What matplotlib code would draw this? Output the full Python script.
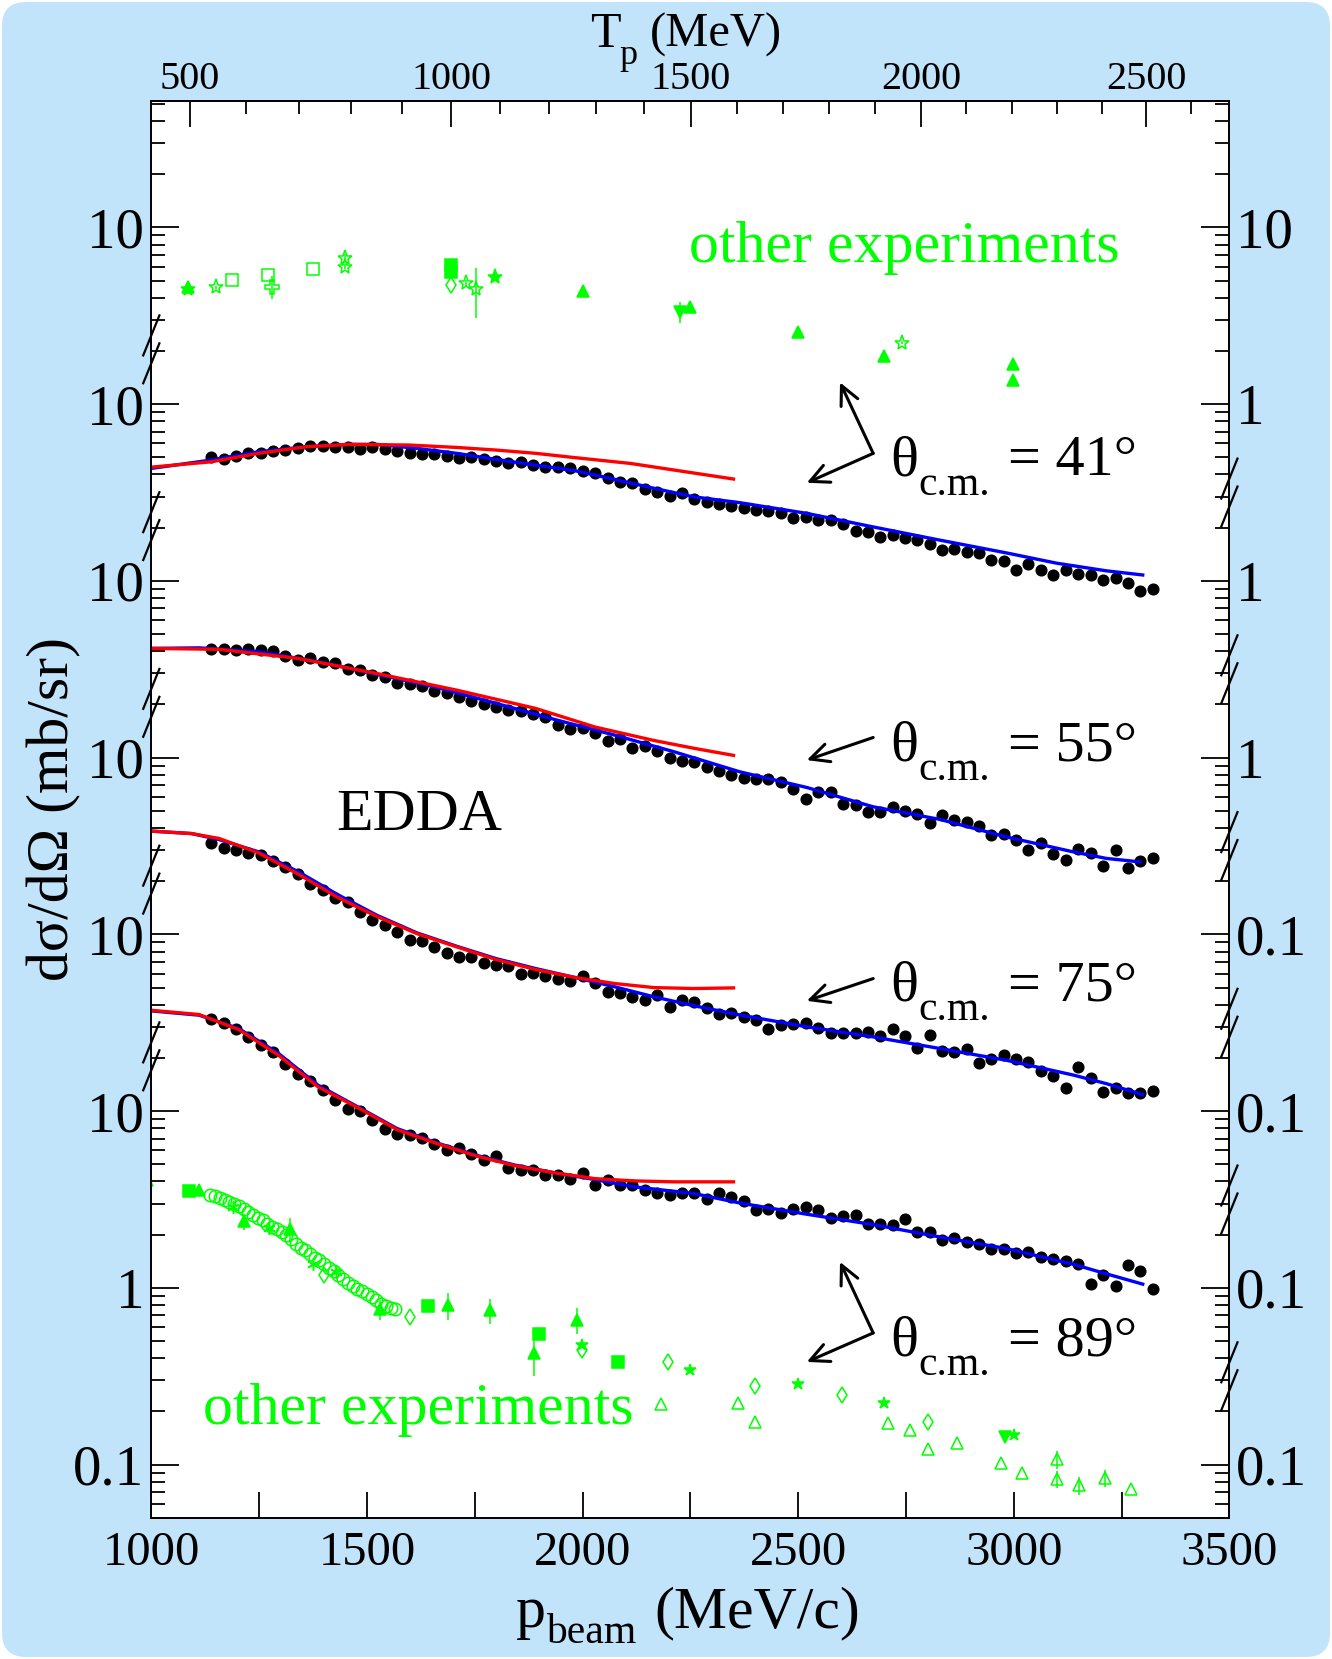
import numpy as np
import matplotlib.pyplot as plt
from matplotlib.patches import FancyBboxPatch
from matplotlib.ticker import FixedLocator, FixedFormatter, LogLocator, NullFormatter

plt.rcParams['font.family'] = ['Liberation Serif', 'DejaVu Serif']

M_P = 938.27
W, H = 1332, 1659
BG = '#c2e4fa'
GREEN = '#00ff00'

# EDDA beam momenta (MeV/c), same bins for every angle
p_edda = [1139, 1168, 1196, 1225, 1254, 1283, 1311, 1340, 1369, 1397,
          1426, 1455, 1484, 1512, 1541, 1570, 1599, 1627, 1656, 1685,
          1713, 1742, 1771, 1800, 1828, 1857, 1886, 1914, 1943, 1972,
          2001, 2029, 2058, 2087, 2115, 2144, 2173, 2202, 2230, 2259,
          2288, 2317, 2345, 2374, 2403, 2431, 2460, 2489, 2518, 2546,
          2575, 2604, 2633, 2661, 2690, 2719, 2747, 2776, 2805, 2834,
          2862, 2891, 2920, 2948, 2977, 3006, 3034, 3063, 3092, 3121,
          3149, 3178, 3207, 3236, 3264, 3293, 3322]

# dsigma/dOmega in mb/sr
edda41 = [5.00, 4.87, 5.11, 5.27, 5.27, 5.45, 5.50, 5.67, 5.82, 5.80,
          5.74, 5.74, 5.57, 5.69, 5.57, 5.43, 5.27, 5.20, 5.22, 5.09,
          4.98, 5.04, 4.89, 4.76, 4.62, 4.70, 4.52, 4.43, 4.43, 4.33,
          4.18, 4.06, 3.80, 3.64, 3.56, 3.29, 3.17, 3.03, 3.13, 2.89,
          2.80, 2.74, 2.67, 2.60, 2.52, 2.49, 2.41, 2.26, 2.29, 2.21,
          2.21, 2.11, 1.92, 1.90, 1.78, 1.82, 1.76, 1.70, 1.62, 1.49,
          1.51, 1.45, 1.43, 1.32, 1.29, 1.16, 1.24, 1.15, 1.08, 1.15,
          1.09, 1.08, 1.01, 1.04, 0.967, 0.876, 0.895]
edda55 = [4.11, 4.10, 4.06, 4.11, 4.06, 4.01, 3.75, 3.56, 3.64, 3.46,
          3.41, 3.16, 3.13, 2.93, 2.87, 2.63, 2.61, 2.54, 2.38, 2.33,
          2.21, 2.09, 2.01, 1.94, 1.86, 1.83, 1.76, 1.70, 1.53, 1.46,
          1.48, 1.38, 1.25, 1.27, 1.14, 1.17, 1.09, 0.989, 0.960, 0.947,
          0.880, 0.839, 0.796, 0.772, 0.762, 0.762, 0.724, 0.661, 0.580, 0.641,
          0.641, 0.546, 0.543, 0.490, 0.490, 0.527, 0.500, 0.479, 0.428, 0.473,
          0.443, 0.433, 0.411, 0.367, 0.372, 0.341, 0.302, 0.330, 0.284, 0.263,
          0.306, 0.287, 0.243, 0.302, 0.238, 0.260, 0.271]
edda75 = [3.27, 3.09, 3.02, 2.89, 2.81, 2.60, 2.41, 2.19, 1.94, 1.79,
          1.61, 1.53, 1.34, 1.21, 1.13, 1.03, 0.935, 0.919, 0.843, 0.786,
          0.746, 0.746, 0.693, 0.675, 0.661, 0.595, 0.608, 0.582, 0.558, 0.546,
          0.580, 0.534, 0.473, 0.467, 0.443, 0.424, 0.453, 0.386, 0.424, 0.412,
          0.381, 0.353, 0.359, 0.341, 0.327, 0.291, 0.306, 0.313, 0.317, 0.297,
          0.277, 0.277, 0.277, 0.281, 0.265, 0.291, 0.265, 0.229, 0.269, 0.219,
          0.216, 0.224, 0.186, 0.198, 0.207, 0.197, 0.190, 0.169, 0.158, 0.136,
          0.178, 0.153, 0.128, 0.136, 0.126, 0.126, 0.130]
edda89 = [3.34, 3.16, 2.93, 2.61, 2.36, 2.15, 1.84, 1.63, 1.48, 1.31,
          1.16, 1.03, 1.00, 0.888, 0.790, 0.746, 0.731, 0.709, 0.650, 0.606,
          0.622, 0.575, 0.532, 0.556, 0.479, 0.463, 0.467, 0.434, 0.438, 0.412,
          0.447, 0.384, 0.410, 0.381, 0.384, 0.357, 0.342, 0.337, 0.342, 0.346,
          0.320, 0.342, 0.327, 0.310, 0.277, 0.278, 0.265, 0.281, 0.287, 0.275,
          0.249, 0.254, 0.258, 0.229, 0.231, 0.226, 0.245, 0.206, 0.207, 0.186,
          0.192, 0.182, 0.176, 0.165, 0.167, 0.158, 0.160, 0.150, 0.146, 0.142,
          0.137, 0.105, 0.118, 0.103, 0.134, 0.125, 0.098]

# model curves: blue = full energy range fit, red = fit up to 2.35 GeV/c
blue41_p = [1000, 1139, 1249, 1359, 1460, 1524, 1616, 1708, 1799, 1891, 1983,
            2075, 2166, 2258, 2365, 2520, 2674, 2829, 2983, 3099, 3215, 3299]
blue41 = [4.33, 4.83, 5.38, 5.74, 5.92, 5.92, 5.62, 5.27, 4.87, 4.52, 4.20,
          3.75, 3.34, 2.99, 2.77, 2.41, 2.02, 1.70, 1.44, 1.26, 1.14, 1.08]
red41_p = [1000, 1139, 1249, 1359, 1460, 1598, 1708, 1799, 1891, 1983, 2111, 2212, 2350]
red41 = [4.40, 4.72, 5.27, 5.74, 5.92, 5.87, 5.69, 5.50, 5.27, 4.98, 4.62, 4.24, 3.77]

blue55_p = [1000, 1111, 1249, 1387, 1524, 1662, 1799, 1937, 2075, 2212,
            2365, 2520, 2674, 2829, 2983, 3138, 3215, 3293]
blue55 = [4.15, 4.18, 3.97, 3.49, 2.96, 2.50, 2.03, 1.64, 1.34, 1.08,
          0.831, 0.678, 0.527, 0.447, 0.356, 0.293, 0.269, 0.257]
red55_p = [1000, 1157, 1341, 1524, 1708, 1891, 2029, 2166, 2258, 2350]
red55 = [4.15, 4.10, 3.64, 2.99, 2.41, 1.90, 1.49, 1.25, 1.13, 1.03]

blue75_p = [1000, 1093, 1157, 1249, 1341, 1432, 1524, 1616, 1708, 1799, 1891, 1983,
            2075, 2166, 2258, 2365, 2520, 2674, 2829, 2983, 3138, 3215, 3299]
blue75 = [3.84, 3.72, 3.44, 2.93, 2.26, 1.68, 1.28, 1.02, 0.857, 0.730, 0.641, 0.570,
          0.505, 0.443, 0.395, 0.350, 0.300, 0.263, 0.226, 0.194, 0.160, 0.143, 0.124]
red75_p = [1000, 1093, 1157, 1249, 1341, 1432, 1524, 1616, 1708, 1799, 1891, 1983,
           2075, 2166, 2258, 2350]
red75 = [3.84, 3.72, 3.49, 2.89, 2.19, 1.62, 1.26, 1.01, 0.850, 0.721, 0.633, 0.570,
         0.527, 0.500, 0.494, 0.498]

blue89_p = [1000, 1111, 1203, 1295, 1387, 1478, 1570, 1662, 1753, 1845, 1937,
            2029, 2120, 2258, 2365, 2520, 2674, 2829, 2983, 3138, 3215, 3299]
blue89 = [3.69, 3.49, 2.93, 2.12, 1.40, 1.06, 0.797, 0.661, 0.563, 0.494, 0.447,
          0.410, 0.373, 0.342, 0.302, 0.261, 0.228, 0.194, 0.167, 0.136, 0.120, 0.105]
red89_p = [1000, 1111, 1203, 1295, 1387, 1478, 1570, 1662, 1753, 1845, 1937,
           2029, 2120, 2212, 2350]
red89 = [3.72, 3.52, 2.89, 2.07, 1.37, 1.05, 0.786, 0.656, 0.558, 0.490, 0.447,
         0.415, 0.403, 0.398, 0.398]

# other experiments near 41 deg
o41_tri_p = [1084, 2000, 2249, 2499, 2699, 2999, 2999, 3515]
o41_tri = [4.58, 4.38, 3.56, 2.57, 1.87, 1.69, 1.37, 0.868]
o41_ostar_p = [1149, 1449, 1449, 1729, 1752, 2740]
o41_ostar = [4.58, 6.74, 6.00, 4.86, 4.46, 2.23]
o41_ostar_err = [0.1, 0.3, 0.2, 0.2, 1.4, 0.05]
o41_osq_p = [1187, 1270, 1376]
o41_osq = [5.04, 5.38, 5.79]
o41_plus_p = [1281]
o41_plus = [4.62]
o41_plus_err = [0.7]
o41_sq_p = [1695, 1695]
o41_sq = [6.10, 5.60]
o41_odia_p = [1696]
o41_odia = [4.75]
o41_star_p = [1084, 1798]
o41_star = [4.50, 5.26]
o41_dtri_p = [2227]
o41_dtri = [3.33]
o41_dtri_err = [0.45]

# other experiments near 89 deg
o89_sq_p = [1088, 1641, 1900, 2082]
o89_sq = [3.54, 0.790, 0.546, 0.381]
o89_tri_p = [990, 1111, 1214, 1322, 1531, 1687, 1785, 1887, 1988]
o89_tri = [4.08, 3.60, 2.38, 2.15, 0.756, 0.797, 0.747, 0.428, 0.655]
o89_tri_err = [0.1, 0.1, 0.25, 0.35, 0.10, 0.14, 0.12, 0.11, 0.11]
o89_circ_p = [1137, 1148, 1159, 1170, 1181, 1192, 1203, 1214, 1225, 1236,
              1247, 1258, 1269, 1280, 1291, 1302, 1313, 1324, 1335, 1346,
              1357, 1368, 1379, 1390, 1401, 1412, 1423, 1434, 1445, 1456,
              1467, 1478, 1489, 1500, 1511, 1522, 1533, 1544, 1555, 1566]
o89_circ = [3.34, 3.30, 3.24, 3.16, 3.08, 3.00, 2.91, 2.80, 2.69, 2.58,
            2.49, 2.41, 2.31, 2.21, 2.14, 2.07, 1.99, 1.88, 1.78, 1.69,
            1.63, 1.56, 1.48, 1.43, 1.36, 1.30, 1.24, 1.18, 1.12, 1.07,
            1.03, 0.991, 0.957, 0.928, 0.889, 0.851, 0.815, 0.787, 0.773, 0.763]
o89_ast_p = [1189, 1272, 1375, 1428]
o89_ast = [2.87, 2.17, 1.37, 1.23]
o89_odia_p = [1400, 1600, 1999, 2199, 2400, 2601, 2800]
o89_odia = [1.18, 0.685, 0.447, 0.381, 0.279, 0.247, 0.174]
o89_star_p = [1999, 2249, 2499, 2699, 3001]
o89_star = [0.473, 0.342, 0.285, 0.223, 0.148]
o89_otri_p = [2182, 2361, 2400, 2709, 2759, 2800, 2869, 2970, 3020, 3101, 3101, 3151, 3211, 3271]
o89_otri = [0.221, 0.224, 0.174, 0.172, 0.158, 0.123, 0.133, 0.102, 0.0901, 0.107,
            0.0826, 0.0764, 0.0840, 0.0731]
o89_otri_err = [0, 0, 0, 0, 0, 0, 0, 0, 0, 0.012, 0.009, 0.009, 0.009, 0]
o89_dtri_p = [2980]
o89_dtri = [0.143]

left_labels = ['0.1', '1', '10', '10', '10', '10', '10', '10']
right_labels = ['0.1', '0.1', '0.1', '0.1', '1', '1', '1', '10']


def p_to_t(p):
    p = np.asarray(p, dtype=float)
    return np.sqrt(p ** 2 + M_P ** 2) - M_P


def t_to_p(t):
    t = np.asarray(t, dtype=float)
    return np.sqrt(np.clip((t + M_P) ** 2 - M_P ** 2, 0, None))


def px(x, y):
    # pixel position (from the top-left corner) -> figure fraction
    return x / W, 1 - y / H


fig = plt.figure(figsize=(W / 100, H / 100), dpi=100)
fig.patch.set_facecolor('white')
bg = FancyBboxPatch((2, 2), W - 4, H - 4, boxstyle='round,pad=0,rounding_size=24',
                    transform=None, fc=BG, ec='none', zorder=-10)
fig.patches.append(bg)

ax = fig.add_axes([0.11359, 0.08499, 0.80938, 0.85443])
ax.set_facecolor('white')
ax.set_xlim(1000, 3500)
ax.set_yscale('log')
ax.set_ylim(10 ** -1.302, 10 ** 6.718)

# each angle is shifted by whole decades
s41, s55, s75, s89 = 1e4, 1e3, 1e2, 1e1
so41, so89 = 1e5, 1.0

for vals, s in [(edda41, s41), (edda55, s55), (edda75, s75), (edda89, s89)]:
    ax.plot(p_edda, np.array(vals) * s, 'o', color='black', ms=7.7, zorder=4)

for bp, bv, rp, rv, s in [(blue41_p, blue41, red41_p, red41, s41),
                          (blue55_p, blue55, red55_p, red55, s55),
                          (blue75_p, blue75, red75_p, red75, s75),
                          (blue89_p, blue89, red89_p, red89, s89)]:
    ax.plot(bp, np.array(bv) * s, color='#0000ff', lw=2.4, zorder=5)
    ax.plot(rp, np.array(rv) * s, color='#ff0000', lw=2.4, zorder=6)


def green(p, v, s, marker, filled=True, ms=7, err=None):
    v = np.array(v) * s
    kw = dict(marker=marker, ls='none', color=GREEN, ms=ms, mew=1.1, zorder=3)
    if not filled:
        kw['mfc'] = 'none'
    if err is not None:
        ax.errorbar(p, v, yerr=np.array(err) * s, elinewidth=1.1, capsize=0, **kw)
    else:
        ax.plot(p, v, **kw)


green(o41_tri_p, o41_tri, so41, '^', ms=8)
green(o41_ostar_p, o41_ostar, so41, '*', filled=False, ms=11, err=o41_ostar_err)
green(o41_osq_p, o41_osq, so41, 's', filled=False, ms=9)
green(o41_plus_p, o41_plus, so41, 'P', filled=False, ms=10, err=o41_plus_err)
green(o41_sq_p, o41_sq, so41, 's', ms=8)
green(o41_odia_p, o41_odia, so41, 'd', filled=False, ms=8)
green(o41_star_p, o41_star, so41, '*', ms=11)
green(o41_dtri_p, o41_dtri, so41, 'v', ms=8, err=o41_dtri_err)

green(o89_circ_p, o89_circ, so89, 'o', filled=False, ms=9)
green(o89_sq_p, o89_sq, so89, 's', ms=8)
green(o89_tri_p, o89_tri, so89, '^', ms=8, err=o89_tri_err)
green(o89_ast_p, o89_ast, so89, (6, 2, 0), ms=9)
green(o89_odia_p, o89_odia, so89, 'd', filled=False, ms=8)
green(o89_star_p, o89_star, so89, '*', ms=9)
green(o89_otri_p, o89_otri, so89, '^', filled=False, ms=9, err=o89_otri_err)
green(o89_dtri_p, o89_dtri, so89, 'v', ms=8)

# ticks
ax.xaxis.set_major_locator(FixedLocator([1000, 1500, 2000, 2500, 3000, 3500]))
ax.xaxis.set_minor_locator(FixedLocator([1250, 1750, 2250, 2750, 3250]))
ax.tick_params(axis='x', which='both', direction='in', length=19, width=1.3,
               labelsize=35, pad=9, top=False)
major_y = [10.0 ** k for k in range(-1, 7)]
for a, labels in [(ax, left_labels), (ax.twinx(), right_labels)]:
    a.set_yscale('log')
    a.set_ylim(ax.get_ylim())
    a.yaxis.set_major_locator(FixedLocator(major_y))
    a.yaxis.set_major_formatter(FixedFormatter(labels))
    a.yaxis.set_minor_locator(LogLocator(base=10, subs=np.arange(2, 10), numticks=200))
    a.yaxis.set_minor_formatter(NullFormatter())
    a.tick_params(axis='y', which='major', direction='in', length=20, width=1.3,
                  labelsize=41, pad=5)
    a.tick_params(axis='y', which='minor', direction='in', length=10, width=1.3)
    for sp in a.spines.values():
        sp.set_linewidth(1.3)
ax.tick_params(axis='y', which='both', right=False)

secax = ax.secondary_xaxis('top', functions=(p_to_t, t_to_p))
secax.set_xticks([500, 1000, 1500, 2000, 2500])
secax.xaxis.set_minor_locator(FixedLocator([t for t in range(500, 2700, 100) if t % 500]))
secax.tick_params(axis='x', which='major', direction='in', length=19, width=1.3,
                  labelsize=29, pad=2)
secax.tick_params(axis='x', which='minor', direction='in', length=9, width=1.3)
secax.spines['top'].set_linewidth(1.3)

# axis breaks drawn across the left and right frame
ytrans = ax.get_yaxis_transform()
for side, centres in [(0.0, [5.31, 4.31, 3.31, 2.31, 1.31]),
                      (1.0, [4.5, 3.5, 2.5, 1.5, 0.5, -0.5])]:
    for u in centres:
        for du in (0.079, -0.079):
            ax.plot([side - 0.0075, side + 0.0075],
                    [10 ** (u + du - 0.113), 10 ** (u + du + 0.113)],
                    color='black', lw=1.6, transform=ytrans, clip_on=False, zorder=10)

# annotations
ax.text(2247, 10 ** 5.806, 'other experiments', color=GREEN, fontsize=43)
ax.text(1121, 10 ** -0.768, 'other experiments', color=GREEN, fontsize=43)
ax.text(1428, 10 ** 2.5925, 'EDDA', fontsize=43)
for ang, u in [(41, 4.599), (55, 2.986), (75, 1.628), (89, -0.381)]:
    ax.text(2713, 10 ** u, 'θ', fontsize=42)
    ax.text(2778, 10 ** (u - 0.113), 'c.m.', fontsize=30)
    ax.text(2987, 10 ** u, '= %d°' % ang, fontsize=42)

arrow = dict(arrowstyle='->,head_length=0.45,head_width=0.22', lw=2.2, color='black',
             shrinkA=0, shrinkB=0, mutation_scale=30)
for tip, base in [((2520, 4.555), (2674, 4.7215)), ((2597, 5.123), (2674, 4.7215)),
                  ((2520, 2.986), (2674, 3.114)),
                  ((2520, 1.624), (2674, 1.750)),
                  ((2520, -0.419), (2674, -0.255)), ((2597, 0.147), (2674, -0.255))]:
    ax.annotate('', xy=(tip[0], 10 ** tip[1]), xytext=(base[0], 10 ** base[1]),
                arrowprops=arrow, zorder=7)

# axis titles, subscripts placed by hand
fig.text(*px(516, 1627), 'p', fontsize=43)
fig.text(*px(546, 1643), 'beam', fontsize=30)
fig.text(*px(654, 1627), '(MeV/c)', fontsize=43)
fig.text(*px(590, 47), 'T', fontsize=36)
fig.text(*px(619, 64), 'p', fontsize=26)
fig.text(*px(650, 47), '(MeV)', fontsize=35)
fig.text(*px(54, 809), 'dσ/dΩ (mb/sr)', ha='center', va='center',
         rotation=90, fontsize=43)

fig.savefig('out.png', dpi=100)
